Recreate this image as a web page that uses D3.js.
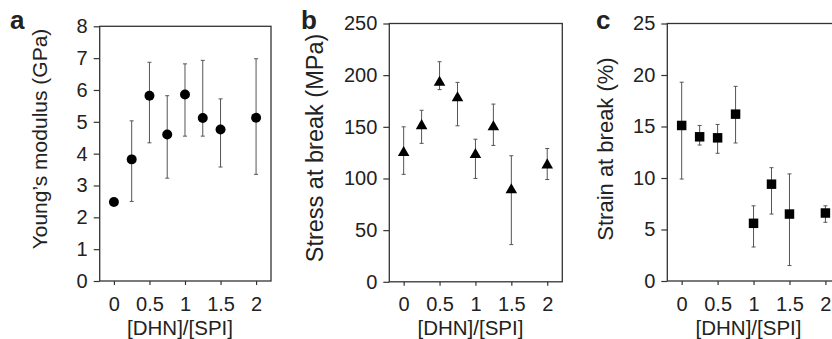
<!DOCTYPE html>
<html>
<head>
<meta charset="utf-8">
<script src="https://cdn.jsdelivr.net/npm/d3@7"></script>
<style>
body { margin: 0; background: #fff; }
text { font-family: "Liberation Sans", Arial, sans-serif; fill: #222; }
</style>
</head>
<body>
<svg id="chart" width="832" height="339"></svg>
<script>
var ratios = [0, 0.25, 0.5, 0.75, 1, 1.25, 1.5, 2];
var xTicks = [0, 0.5, 1, 1.5, 2];
var xTitle = "[DHN]/[SPI]";

var modulus = [2.48, 3.82, 5.82, 4.6, 5.86, 5.12, 4.76, 5.13];
var modulusLow = [2.42, 2.5, 4.34, 3.23, 4.55, 4.55, 3.58, 3.35];
var modulusHigh = [2.54, 5.03, 6.87, 5.82, 6.82, 6.93, 5.72, 6.98];

var stress = [125, 151, 193, 178, 123, 150, 89, 113];
var stressLow = [104, 134, 186, 151, 100, 132, 36, 99];
var stressHigh = [150, 166, 213, 193, 138, 172, 122, 129];

var strain = [15.1, 14.0, 13.9, 16.2, 5.6, 9.4, 6.5, 6.6];
var strainLow = [9.9, 13.2, 12.4, 13.4, 3.3, 6.5, 1.5, 5.7];
var strainHigh = [19.3, 15.1, 15.2, 18.9, 7.3, 11.0, 10.4, 7.3];

var panelLetters = ["a", "b", "c"];
var yTitles = ["Young\u2019s modulus (GPa)", "Stress at break (MPa)", "Strain at break (%)"];
var yMax = [8, 250, 25];
var yTicks = [[0, 1, 2, 3, 4, 5, 6, 7, 8], [0, 50, 100, 150, 200, 250], [0, 5, 10, 15, 20, 25]];

// layout of each panel box (pixels)
var boxes = [
    { left: 99.7, right: 271, top: 26.3, bottom: 281, titleX: 40, titleY: 139, titleSize: 21, letterX: 10 },
    { left: 389.3, right: 562.3, top: 23.5, bottom: 281.8, titleX: 315, titleY: 148, titleSize: 23.5, letterX: 301 },
    { left: 667.3, right: 840.5, top: 23.5, bottom: 281, titleX: 605, titleY: 149, titleSize: 22, letterX: 596 }
];
var symbols = [d3.symbolCircle, d3.symbolTriangle, d3.symbolSquare];
var symbolSizes = [78, 58, 90];

var series = [
    { mid: modulus, low: modulusLow, high: modulusHigh },
    { mid: stress, low: stressLow, high: stressHigh },
    { mid: strain, low: strainLow, high: strainHigh }
];

var svg = d3.select("#chart");

function drawPanel(n) {
    var box = boxes[n];
    var s = series[n];
    var g = svg.append("g");

    var x = d3.scaleLinear().domain([-0.2, 2.21]).range([box.left, box.right]);
    var y = d3.scaleLinear().domain([0, yMax[n]]).range([box.bottom, box.top]);

    var yAxis = g.append("g")
        .attr("transform", "translate(" + box.left + ",0)")
        .call(d3.axisLeft(y).tickValues(yTicks[n]).tickSize(6).tickPadding(6));
    yAxis.select(".domain").remove();
    yAxis.selectAll("line").attr("stroke", "#333").attr("stroke-width", 1.2);
    yAxis.selectAll("text")
        .style("font-family", "'Liberation Sans', Arial, sans-serif")
        .style("font-size", "20px")
        .attr("fill", "#222");

    var xAxis = g.append("g")
        .attr("transform", "translate(0," + box.bottom + ")")
        .call(d3.axisBottom(x).tickValues(xTicks).tickFormat(d3.format("")).tickSize(4).tickPadding(11.5));
    xAxis.select(".domain").remove();
    xAxis.selectAll("line").attr("stroke", "#333").attr("stroke-width", 1.2);
    xAxis.selectAll("text")
        .style("font-family", "'Liberation Sans', Arial, sans-serif")
        .style("font-size", "20px")
        .attr("fill", "#222");

    g.append("rect")
        .attr("x", box.left)
        .attr("y", box.top)
        .attr("width", box.right - box.left)
        .attr("height", box.bottom - box.top)
        .attr("fill", "none")
        .attr("stroke", "#333")
        .attr("stroke-width", 1.3);

    // error bars
    var bars = g.selectAll(".err").data(ratios).enter().append("g");
    bars.append("line")
        .attr("x1", function (d) { return x(d); })
        .attr("x2", function (d) { return x(d); })
        .attr("y1", function (d, i) { return y(s.low[i]); })
        .attr("y2", function (d, i) { return y(s.high[i]); })
        .attr("stroke", "#555")
        .attr("stroke-width", 1);
    bars.append("line")
        .attr("x1", function (d) { return x(d) - 2; })
        .attr("x2", function (d) { return x(d) + 2; })
        .attr("y1", function (d, i) { return y(s.low[i]); })
        .attr("y2", function (d, i) { return y(s.low[i]); })
        .attr("stroke", "#555")
        .attr("stroke-width", 1);
    bars.append("line")
        .attr("x1", function (d) { return x(d) - 2; })
        .attr("x2", function (d) { return x(d) + 2; })
        .attr("y1", function (d, i) { return y(s.high[i]); })
        .attr("y2", function (d, i) { return y(s.high[i]); })
        .attr("stroke", "#555")
        .attr("stroke-width", 1);

    g.selectAll(".pt").data(ratios).enter().append("path")
        .attr("d", d3.symbol().type(symbols[n]).size(symbolSizes[n]))
        .attr("transform", function (d, i) { return "translate(" + x(d) + "," + y(s.mid[i]) + ")"; })
        .attr("fill", "#000");

    svg.append("text")
        .attr("transform", "translate(" + box.titleX + "," + box.titleY + ") rotate(-90)")
        .attr("text-anchor", "middle")
        .attr("dy", "0.35em")
        .style("font-size", box.titleSize + "px")
        .text(yTitles[n]);

    svg.append("text")
        .attr("x", x(0.93))
        .attr("y", 334.5)
        .attr("text-anchor", "middle")
        .style("font-size", "20.5px")
        .text(xTitle);

    svg.append("text")
        .attr("x", box.letterX)
        .attr("y", 29)
        .style("font-size", "26px")
        .style("font-weight", "bold")
        .attr("fill", "#000")
        .text(panelLetters[n]);
}

for (var i = 0; i < 3; i++) {
    drawPanel(i);
}
</script>
</body>
</html>
